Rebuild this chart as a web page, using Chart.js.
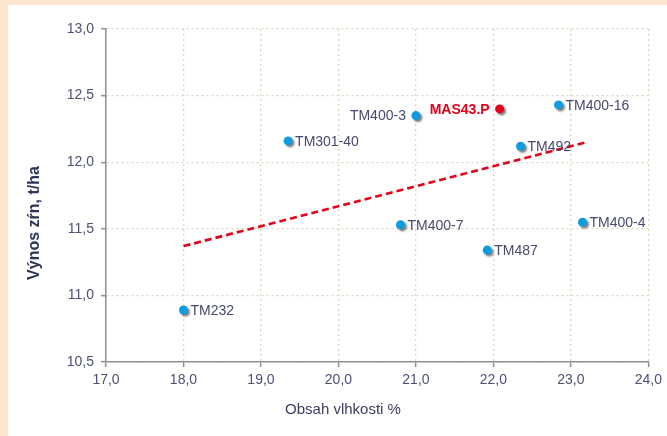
<!DOCTYPE html>
<html>
<head>
<meta charset="utf-8">
<script src="https://cdn.jsdelivr.net/npm/chart.js@4"></script>
<style>
  html, body { margin: 0; padding: 0; background: #fde6d0; width: 667px; height: 436px; overflow: hidden; }
  #panel { position: absolute; left: 8px; top: 5px; width: 659px; height: 431px; background: #ffffff; }
  canvas { display: block; }
</style>
</head>
<body>
<div id="panel"><canvas id="c" width="659" height="431"></canvas></div>
<script>
// ---- data ----
const categories = ['TM232', 'TM301-40', 'TM400-7', 'TM400-3', 'TM487', 'TM492', 'TM400-16', 'TM400-4'];
const moisture   = [18.0, 19.35, 20.8, 21.0, 21.92, 22.35, 22.84, 23.15];
const yieldVals  = [10.89, 12.16, 11.53, 12.35, 11.34, 12.12, 12.43, 11.55];
const highlightNames = ['MAS43.P'];
const highlightX     = [22.08];
const highlightY     = [12.40];
const trendX = [18.0, 23.2];
const trendY = [11.37, 12.15];
const leftLabeled = ['TM400-3', 'MAS43.P'];
const xTitle = 'Obsah vlhkosti %';
const yTitle = 'Výnos zŕn, t/ha';

const FONT = '"Liberation Sans", Arial, Helvetica, sans-serif';
const TEXT = '#454a6e';
const BLUE = '#0d9ddf';
const RED = '#e2001a';

const mainPts = categories.map((n, i) => ({ x: moisture[i], y: yieldVals[i], name: n }));
const hiPts = highlightNames.map((n, i) => ({ x: highlightX[i], y: highlightY[i], name: n }));
const trendPts = trendX.map((x, i) => ({ x: x, y: trendY[i] }));

const fmt = v => Number(v).toFixed(1).replace('.', ',');

const shadowPlugin = {
  id: 'shadow',
  beforeDatasetDraw(chart, args) {
    const ctx = chart.ctx;
    ctx.save();
    if (args.meta.type === 'scatter' && args.index < 2) {
      ctx.shadowColor = 'rgba(0,0,0,0.5)';
      ctx.shadowOffsetX = 2;
      ctx.shadowOffsetY = 2;
      ctx.shadowBlur = 2;
    }
  },
  afterDatasetDraw(chart) {
    chart.ctx.restore();
  }
};

const labelPlugin = {
  id: 'pointLabels',
  afterDatasetsDraw(chart) {
    const ctx = chart.ctx;
    const xs = chart.scales.x, ys = chart.scales.y;
    ctx.save();
    ctx.textBaseline = 'middle';
    const draw = (p, color, bold) => {
      const px = xs.getPixelForValue(p.x), py = ys.getPixelForValue(p.y);
      ctx.font = (bold ? 'bold ' : '') + '14px ' + FONT;
      ctx.fillStyle = color;
      if (leftLabeled.includes(p.name)) {
        ctx.textAlign = 'right';
        ctx.fillText(p.name, px - 10, py + 1);
      } else {
        ctx.textAlign = 'left';
        ctx.fillText(p.name, px + 7, py + 1);
      }
    };
    mainPts.forEach(p => draw(p, TEXT, false));
    hiPts.forEach(p => draw(p, RED, true));
    // x axis title
    ctx.font = '15px ' + FONT;
    ctx.fillStyle = '#3a3f62';
    ctx.textAlign = 'center';
    ctx.textBaseline = 'middle';
    ctx.fillText(xTitle, 335, 405);
    // y axis title (rotated)
    ctx.translate(27, 218);
    ctx.rotate(-Math.PI / 2);
    ctx.font = 'bold 16px ' + FONT;
    ctx.fillStyle = '#2f3558';
    ctx.fillText(yTitle, 0, 0);
    ctx.restore();
  }
};

const gridOpts = { color: '#dcd8bf', lineWidth: 1.3, tickLength: 5, tickColor: '#8f8f8f', tickBorderDash: [], tickWidth: 1.5 };
const borderOpts = { color: '#8f8f8f', width: 1.5, dash: [2, 3] };

new Chart(document.getElementById('c'), {
  type: 'scatter',
  data: {
    datasets: [
      { label: 'Hybrids', data: mainPts, backgroundColor: BLUE, borderWidth: 0, pointRadius: 4.5, pointHoverRadius: 4.5 },
      { label: 'MAS43.P', data: hiPts, backgroundColor: RED, borderWidth: 0, pointRadius: 4.5, pointHoverRadius: 4.5 },
      { label: 'Trend', type: 'line', data: trendPts, borderColor: RED, borderWidth: 2.6, borderDash: [7, 4], pointRadius: 0, fill: false, showLine: true }
    ]
  },
  options: {
    responsive: false,
    animation: false,
    devicePixelRatio: 1,
    layout: { padding: { top: 24, right: 16, left: 0, bottom: 0 } },
    plugins: { legend: { display: false }, tooltip: { enabled: false } },
    scales: {
      x: {
        type: 'linear', min: 17, max: 24,
        ticks: { stepSize: 1, callback: fmt, color: '#4b5075', font: { family: FONT, size: 14 }, padding: 5, maxRotation: 0 },
        grid: gridOpts,
        border: borderOpts,
        afterFit(s) { s.height = 74; }
      },
      y: {
        type: 'linear', min: 10.5, max: 13,
        ticks: { stepSize: 0.5, callback: fmt, color: '#4b5075', font: { family: FONT, size: 14 }, padding: 7 },
        grid: gridOpts,
        border: borderOpts,
        afterFit(s) { s.width = 98; }
      }
    }
  },
  plugins: [shadowPlugin, labelPlugin]
});
</script>
</body>
</html>
